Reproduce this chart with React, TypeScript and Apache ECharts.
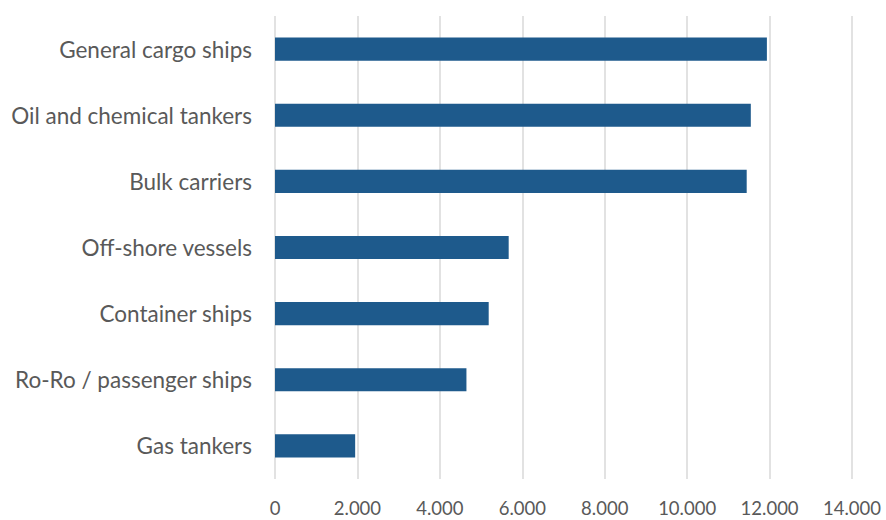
import React, { useEffect, useRef } from "react";
import * as echarts from "echarts";

const categories = [
  "Gas tankers",
  "Ro-Ro / passenger ships",
  "Container ships",
  "Off-shore vessels",
  "Bulk carriers",
  "Oil and chemical tankers",
  "General cargo ships",
];
const values = [1945, 4645, 5185, 5670, 11445, 11545, 11935];
const axisMax = 14000;
const axisStep = 2000;

const fmt = (v: number) => v.toFixed(0).replace(/\B(?=(\d{3})+(?!\d))/g, ".");

export default function App() {
  const ref = useRef<HTMLDivElement>(null);
  useEffect(() => {
    document.body.style.margin = "0";
    if (!ref.current) return;
    const chart = echarts.init(ref.current, undefined, { renderer: "svg" });
    chart.setOption({
      animation: false,
      backgroundColor: "#ffffff",
      grid: { left: 275, right: 34, top: 16, bottom: 41, containLabel: false },
      xAxis: {
        type: "value",
        min: 0,
        max: axisMax,
        interval: axisStep,
        axisLine: { show: false },
        axisTick: { show: false },
        splitLine: { show: true, lineStyle: { color: "#d9d9d9", width: 1.5 } },
        axisLabel: {
          color: "#595959",
          fontFamily: "Lato",
          fontSize: 18.5,
          margin: 19,
          formatter: (v: number) => fmt(v),
        },
      },
      yAxis: {
        type: "category",
        data: categories,
        axisLine: { show: false },
        axisTick: { show: false },
        axisLabel: {
          color: "#595959",
          fontFamily: "Lato",
          fontSize: 22.5,
          margin: 23,
        },
      },
      series: [
        {
          type: "bar",
          data: values,
          barCategoryGap: "65%",
          itemStyle: { color: "#1e5a8c" },
        },
      ],
    });
    return () => chart.dispose();
  }, []);
  return <div ref={ref} style={{ width: 886, height: 520 }} />;
}
